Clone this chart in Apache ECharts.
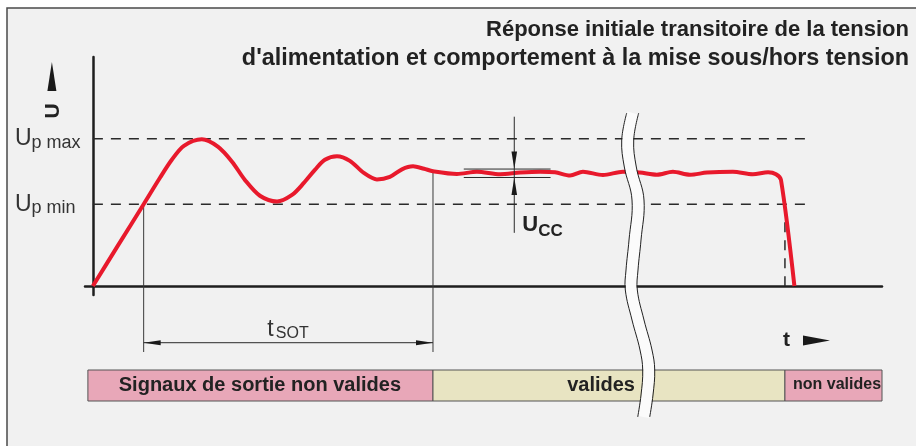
<!DOCTYPE html>
<html><head><meta charset="utf-8">
<script src="https://cdn.jsdelivr.net/npm/echarts@6/dist/echarts.min.js"></script>
<style>html,body{margin:0;padding:0;background:#fff}#c{width:916px;height:446px}</style>
</head><body><div id="c"></div>
<script>
// ---- data ----
const timeMs = [0, 9.5, 19.3, 25.5, 30.0, 34.6, 41.4, 47.5, 52.9, 57.8, 63.5, 70.0, 75.7, 80.2, 84.4, 88.2, 92.8, 97.7, 103.0, 108.0, 112.9, 117.5, 121.7, 125.9, 129.3, 138.4, 146.0, 154.8, 162.4, 170.0, 175.7, 181.4, 186.3, 193.9, 201.5, 207.9, 214.4, 220.5, 227.0, 233.5, 243.3, 250.9, 256.7, 259.7, 261.6, 266.7];
const supplyV = [0, 1.48, 3.00, 3.97, 4.63, 5.14, 5.38, 5.11, 4.56, 3.89, 3.31, 3.10, 3.34, 3.78, 4.26, 4.63, 4.76, 4.59, 4.15, 3.91, 4.00, 4.28, 4.39, 4.30, 4.21, 4.11, 4.19, 4.10, 4.16, 4.19, 4.17, 4.05, 4.19, 4.07, 4.19, 4.16, 4.08, 4.19, 4.08, 4.16, 4.19, 4.10, 4.17, 4.10, 3.89, 0];
const levelValues = [5.4, 3.0];
const levelSubLabels = ['p max', 'p min'];
const levelEndT = 272;
const tSotRange = [19.3, 129.3];
const tSotTopV = [3.0, 4.21];
const uccBandV = [3.98, 4.29];
const uccBandT = [141, 174];
const uccMarkerT = 160.2;
const uccMarkerV = [6.21, 1.95];
const powerOffT = 263.1;
const breakT = 205;
const phaseEdges = [-1.9, 129.3, 263.1, 300];
const phaseLabels = ['Signaux de sortie non valides', 'valides', 'non valides'];
const phaseLabelT = [63.5, 193.2, 282.9];
const titleLines = ['Réponse initiale transitoire de la tension', "d'alimentation et comportement à la mise sous/hors tension"];

const FONT = '"Liberation Sans", Arial, Helvetica, sans-serif';
const chart = echarts.init(document.getElementById('c'), null, {renderer: 'canvas'});
const axisStyle = {onZero: true, lineStyle: {color: '#1e1e1e', width: 2.5}};
chart.setOption({
  animation: false,
  backgroundColor: 'transparent',
  grid: {left: 85, right: 34, top: 57, bottom: 151},
  xAxis: {type: 'value', min: -3, max: 300, axisLine: axisStyle, axisTick: {show: false}, axisLabel: {show: false}, splitLine: {show: false}},
  yAxis: {type: 'value', min: -0.33, max: 8.4, axisLine: axisStyle, axisTick: {show: false}, axisLabel: {show: false}, splitLine: {show: false}},
  series: [{
    type: 'line', data: timeMs.map((t, i) => [t, supplyV[i]]), smooth: 0.3, showSymbol: false, clip: false,
    lineStyle: {color: '#e8192c', width: 4}, z: 3
  }]
});

function P(t, u) { return chart.convertToPixel({gridIndex: 0}, [t, u]); }
const g = [];
const dark = '#2a2a2a';
function line(x1, y1, x2, y2, extra) {
  return Object.assign({type: 'line', silent: true, z: 1, shape: {x1, y1, x2, y2}, style: {stroke: dark, lineWidth: 1}}, extra || {});
}
function text(x, y, str, size, weight, align, fill, extra) {
  return Object.assign({type: 'text', silent: true, z: 6, x, y,
    style: {text: str, font: weight + ' ' + size + 'px ' + FONT, fill: fill || '#222', align: align, verticalAlign: 'middle'}}, extra || {});
}
function tri(points, z) { return {type: 'polygon', silent: true, z: z || 2, shape: {points}, style: {fill: '#1a1a1a'}}; }

// frame
g.push({type: 'rect', silent: true, z: -5, shape: {x: 7, y: 8, width: 1000, height: 1000}, style: {fill: '#f1f1f1', stroke: '#4a4a4a', lineWidth: 1.5}});

// title
g.push(text(909, 30, titleLines[0], 22, 'bold', 'right'));
g.push(text(909, 59, titleLines[1], 23.4, 'bold', 'right'));

// axis arrows & names
const origin = P(0, 0);
const yTop = P(0, 8.4);
g.push(tri([[yTop[0] - 41, yTop[1] + 5], [yTop[0] - 45.5, yTop[1] + 34], [yTop[0] - 36.5, yTop[1] + 34]]));
g.push(text(yTop[0] - 39.5, yTop[1] + 54, 'U', 21, 'bold', 'center', null, {rotation: Math.PI / 2}));
const xEnd = P(300, 0);
g.push(text(xEnd[0] - 95.5, origin[1] + 54, 't', 21, 'bold', 'center'));
g.push(tri([[xEnd[0] - 79, origin[1] + 49.5], [xEnd[0] - 52, origin[1] + 54.5], [xEnd[0] - 79, origin[1] + 59.5]]));

// level lines + labels
levelValues.forEach((v, i) => {
  const a = P(0, v), b = P(levelEndT, v);
  g.push(line(a[0], a[1], b[0], b[1], {style: {stroke: dark, lineWidth: 1.5, lineDash: [10, 8]}}));
  g.push(text(a[0] - 78, a[1], 'U', 23, 'normal', 'left', '#333'));
  g.push(text(a[0] - 61.5, a[1] + 4, levelSubLabels[i], 18, 'normal', 'left', '#333'));
});

// power-off dashed vertical
const po1 = P(powerOffT, levelValues[1]), po2 = P(powerOffT, 0);
g.push(line(po1[0], po1[1], po2[0], po2[1], {style: {stroke: dark, lineWidth: 1.5, lineDash: [10, 8]}}));

// tSOT
const s1 = P(tSotRange[0], tSotTopV[0]), s2 = P(tSotRange[1], tSotTopV[1]);
const arrowY = origin[1] + 56.7;
g.push(line(s1[0], s1[1], s1[0], origin[1] + 66, {style: {stroke: '#3a3a3a', lineWidth: 1}}));
g.push(line(s2[0], s2[1], s2[0], origin[1] + 66, {style: {stroke: '#3a3a3a', lineWidth: 1}}));
g.push(line(s1[0], arrowY, s2[0], arrowY));
g.push(tri([[s1[0], arrowY], [s1[0] + 17, arrowY - 2.5], [s1[0] + 17, arrowY + 2.5]]));
g.push(tri([[s2[0], arrowY], [s2[0] - 17, arrowY - 2.5], [s2[0] - 17, arrowY + 2.5]]));
const cx = (s1[0] + s2[0]) / 2;
g.push(text(cx - 21, arrowY - 13, 't', 23, 'normal', 'left', '#333'));
g.push(text(cx - 12.5, arrowY - 9.3, 'SOT', 16, 'normal', 'left', '#333'));

// Ucc ripple band
const bTop1 = P(uccBandT[0], uccBandV[1]), bTop2 = P(uccBandT[1], uccBandV[1]);
const bBot1 = P(uccBandT[0], uccBandV[0]), bBot2 = P(uccBandT[1], uccBandV[0]);
g.push(line(bTop1[0], bTop1[1], bTop2[0], bTop2[1], {z: 4}));
g.push(line(bBot1[0], bBot1[1], bBot2[0], bBot2[1], {z: 4}));
const m1 = P(uccMarkerT, uccMarkerV[0]), m2 = P(uccMarkerT, uccMarkerV[1]);
g.push(line(m1[0], m1[1], m1[0], m2[1], {z: 4}));
g.push(tri([[m1[0], bTop1[1]], [m1[0] - 2.8, bTop1[1] - 17.5], [m1[0] + 2.8, bTop1[1] - 17.5]], 4));
g.push(tri([[m1[0], bBot1[1]], [m1[0] - 2.8, bBot1[1] + 17.5], [m1[0] + 2.8, bBot1[1] + 17.5]], 4));
g.push(text(m1[0] + 8, m2[1] - 7.5, 'U', 22, 'bold', 'left'));
g.push(text(m1[0] + 24, m2[1] - 2, 'CC', 17, 'bold', 'left'));

// status bars
const barTop = origin[1] + 84, barH = 31;
const barFill = ['#e8a7b8', '#e8e4c2', '#e8a7b8'];
const barFont = [20, 20, 16];
phaseLabels.forEach((lab, i) => {
  const xa = P(phaseEdges[i], 0)[0], xb = P(phaseEdges[i + 1], 0)[0];
  g.push({type: 'rect', silent: true, z: 5, shape: {x: xa, y: barTop, width: xb - xa, height: barH}, style: {fill: barFill[i], stroke: '#555', lineWidth: 1}});
  g.push(text(P(phaseLabelT[i], 0)[0], barTop + 15, lab, barFont[i], 'bold', 'center'));
});

// axis break (drawn above everything)
const bx = P(breakT, 0)[0];
const wave = [[0.6, 113], [-4.4, 140], [-1.8, 167], [5.9, 200], [2.9, 240], [-0.1, 270], [-0.8, 290], [5.9, 320], [13.9, 350], [16.6, 370], [14.9, 395], [11.6, 417]];
const shift = d => wave.map(p => [bx + p[0] + d, p[1]]);
g.push({type: 'polyline', silent: true, z: 20, shape: {points: shift(0), smooth: 0.4}, style: {stroke: '#fbfbfb', lineWidth: 11, fill: null}});
g.push({type: 'polyline', silent: true, z: 21, shape: {points: shift(-6), smooth: 0.4}, style: {stroke: '#222', lineWidth: 1, fill: null}});
g.push({type: 'polyline', silent: true, z: 21, shape: {points: shift(6), smooth: 0.4}, style: {stroke: '#222', lineWidth: 1, fill: null}});

chart.setOption({graphic: {elements: g}});
</script>
</body></html>
